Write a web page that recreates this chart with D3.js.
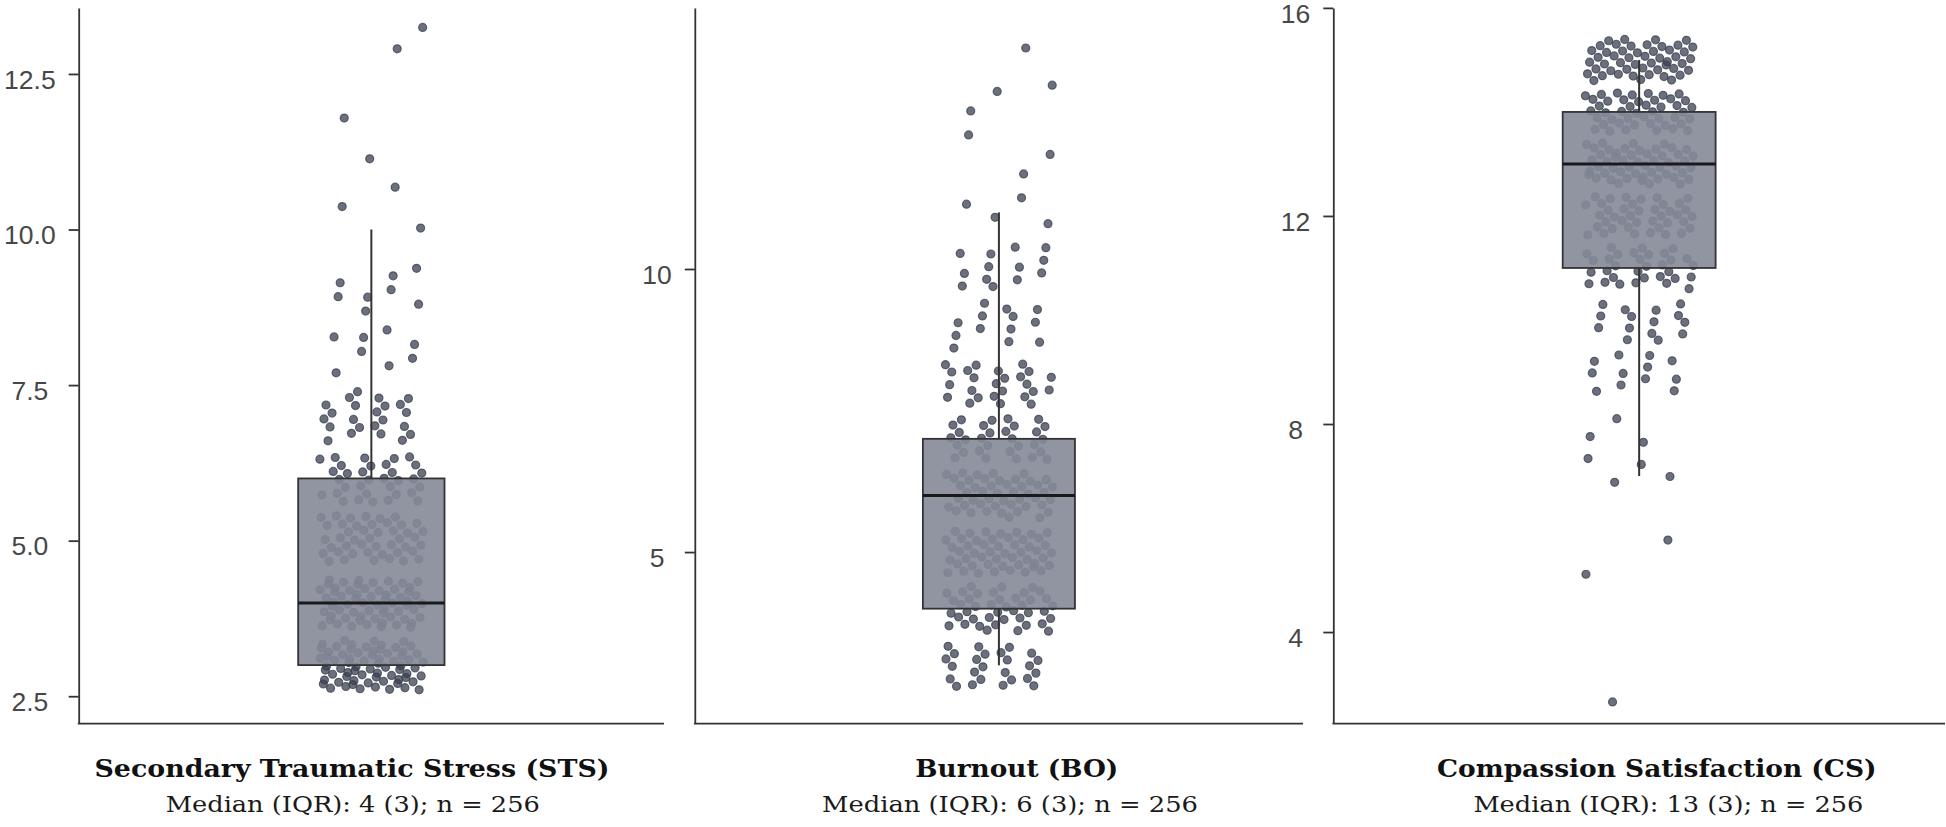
<!DOCTYPE html>
<html>
<head>
<meta charset="utf-8">
<script src="https://cdn.jsdelivr.net/npm/d3@7"></script>
<style>
  html, body { margin: 0; padding: 0; background: #ffffff; }
  svg { display: block; }
</style>
</head>
<body>
<svg id="chart" width="1946" height="827"></svg>
<script>
// ---------------- data ----------------
// ProQOL sub-scale scores are integers 3..15; counts of respondents per score (n = 256 each)
const scoreLevels = [3, 4, 5, 6, 7, 8, 9, 10, 11, 12, 13, 14, 15];
const stsCounts   = [70, 62, 45, 33, 23, 8, 8, 2, 2, 1, 2, 0, 0];
const boCounts    = [25, 42, 50, 47, 30, 25, 13, 13, 4, 3, 3, 1, 0];
const csCounts    = [1, 0, 1, 1, 4, 3, 12, 15, 32, 40, 52, 45, 50];

const panelTitles = ["Secondary Traumatic Stress (STS)", "Burnout (BO)", "Compassion Satisfaction (CS)"];

// y-axis extents and ticks
const stsDomain = [2.06, 13.56];
const boDomain  = [1.97, 14.61];
const csDomain  = [2.24, 16.0];
const stsTicks = [2.5, 5, 7.5, 10, 12.5];
const boTicks  = [5, 10];
const csTicks  = [4, 8, 12, 16];
const stsTickFormat = ".1f";
const boTickFormat  = "d";
const csTickFormat  = "d";

// ---------------- layout ----------------
const svg = d3.select("#chart");
const AXIS_BOTTOM = 723.6;
const panels = [
  { title: panelTitles[0], counts: stsCounts, domain: stsDomain, ticks: stsTicks, fmt: stsTickFormat,
    left: 78.7, right: 664, top: 8, titleX: 94.5, titleW: 515, subX: 165.8, subW: 374 },
  { title: panelTitles[1], counts: boCounts, domain: boDomain, ticks: boTicks, fmt: boTickFormat,
    left: 694.8, right: 1303, top: 8, titleX: 915.3, titleW: 203, subX: 822, subW: 376 },
  { title: panelTitles[2], counts: csCounts, domain: csDomain, ticks: csTicks, fmt: csTickFormat,
    left: 1333.3, right: 1945, top: 7.9, titleX: 1437, titleW: 439.5, subX: 1473.4, subW: 390 }
];

const AXIS_COLOR = "#333333";
const POINT_COLOR = "#3a4050";
const BOX_FILL = "rgb(133,138,152)";
const TITLE_FONT = "'DejaVu Serif', 'Liberation Serif', serif";
const TICK_FONT = "'Liberation Sans', Arial, sans-serif";

// quasi-random (R2 sequence) jitter layout, deterministic
const R2a = 0.7548776662466927, R2b = 0.5698402909980532;

panels.forEach(p => {
  const g = svg.append("g");

  // expand counts into observations
  const values = [];
  scoreLevels.forEach((s, k) => { for (let c = 0; c < p.counts[k]; c++) values.push(s); });
  values.sort(d3.ascending);

  const q1 = d3.quantileSorted(values, 0.25);
  const med = d3.quantileSorted(values, 0.5);
  const q3 = d3.quantileSorted(values, 0.75);
  const iqr = q3 - q1;
  const loFence = q1 - 1.5 * iqr, hiFence = q3 + 1.5 * iqr;
  const whiskLo = d3.min(values.filter(v => v >= loFence));
  const whiskHi = d3.max(values.filter(v => v <= hiFence));

  const y = d3.scaleLinear().domain(p.domain).range([AXIS_BOTTOM, p.top]);
  const x = d3.scaleBand().domain([p.title]).range([p.left, p.right]).paddingOuter(1.5).paddingInner(0);
  const cx = x(p.title) + x.bandwidth() / 2;
  const jitterHalf = x.bandwidth() * 0.355;

  // jittered points
  g.append("g").selectAll("circle")
    .data(values.map((v, i) => ({
      v,
      jx: ((0.5 + R2a * (i + 1)) % 1) * 2 - 1,
      jy: ((0.5 + R2b * (i + 1)) % 1) * 2 - 1
    })))
    .join("circle")
      .attr("cx", d => cx + d.jx * jitterHalf)
      .attr("cy", d => y(d.v + d.jy * 0.4))
      .attr("r", 4.0)
      .attr("fill", POINT_COLOR)
      .attr("fill-opacity", 0.75)
      .attr("stroke", POINT_COLOR)
      .attr("stroke-opacity", 0.75)
      .attr("stroke-width", 1.2);

  // whiskers
  g.append("line")
    .attr("x1", cx).attr("x2", cx)
    .attr("y1", y(whiskHi)).attr("y2", y(q3))
    .attr("stroke", AXIS_COLOR).attr("stroke-width", 2);
  if (whiskLo < q1) {
    g.append("line")
      .attr("x1", cx).attr("x2", cx)
      .attr("y1", y(q1)).attr("y2", y(whiskLo))
      .attr("stroke", AXIS_COLOR).attr("stroke-width", 2);
  }

  // box
  g.append("rect")
    .attr("x", x(p.title))
    .attr("width", x.bandwidth())
    .attr("y", y(q3))
    .attr("height", y(q1) - y(q3))
    .attr("fill", BOX_FILL)
    .attr("fill-opacity", 0.9)
    .attr("stroke", AXIS_COLOR)
    .attr("stroke-width", 1.8);

  // median
  g.append("line")
    .attr("x1", x(p.title)).attr("x2", x(p.title) + x.bandwidth())
    .attr("y1", y(med)).attr("y2", y(med))
    .attr("stroke", "#1a1a1a").attr("stroke-width", 3);

  // y axis
  const yAxis = d3.axisLeft(y).tickValues(p.ticks).tickFormat(d3.format(p.fmt))
    .tickSize(10).tickSizeOuter(0);
  const ag = g.append("g").attr("transform", `translate(${p.left},0)`).call(yAxis);
  ag.select(".domain").attr("stroke", AXIS_COLOR).attr("stroke-width", 1.8);
  ag.selectAll(".tick line").attr("stroke", AXIS_COLOR).attr("stroke-width", 1.8);
  const texts = ag.selectAll(".tick text")
    .attr("fill", "#474747")
    .attr("font-family", TICK_FONT)
    .attr("font-size", "26.5px");
  ag.attr("font-family", null).attr("font-size", null);
  let maxW = 0;
  texts.each(function () { maxW = Math.max(maxW, this.getComputedTextLength()); });
  texts.attr("text-anchor", "middle")
    .attr("x", -(23 + maxW / 2))
    .attr("dy", "0.54em");

  // x axis line (no ticks)
  g.append("line")
    .attr("x1", p.left - 0.9).attr("x2", p.right)
    .attr("y1", AXIS_BOTTOM).attr("y2", AXIS_BOTTOM)
    .attr("stroke", AXIS_COLOR).attr("stroke-width", 1.8);

  // titles
  g.append("text")
    .attr("x", p.titleX).attr("y", 777)
    .attr("font-family", TITLE_FONT).attr("font-weight", "bold")
    .attr("font-size", "25px").attr("fill", "#111")
    .attr("textLength", p.titleW).attr("lengthAdjust", "spacingAndGlyphs")
    .text(p.title);

  g.append("text")
    .attr("x", p.subX).attr("y", 812)
    .attr("font-family", TITLE_FONT)
    .attr("font-size", "22.5px").attr("fill", "#1a1a1a")
    .attr("textLength", p.subW).attr("lengthAdjust", "spacingAndGlyphs")
    .text(`Median (IQR): ${med} (${iqr}); n = ${values.length}`);
});
</script>
</body>
</html>
